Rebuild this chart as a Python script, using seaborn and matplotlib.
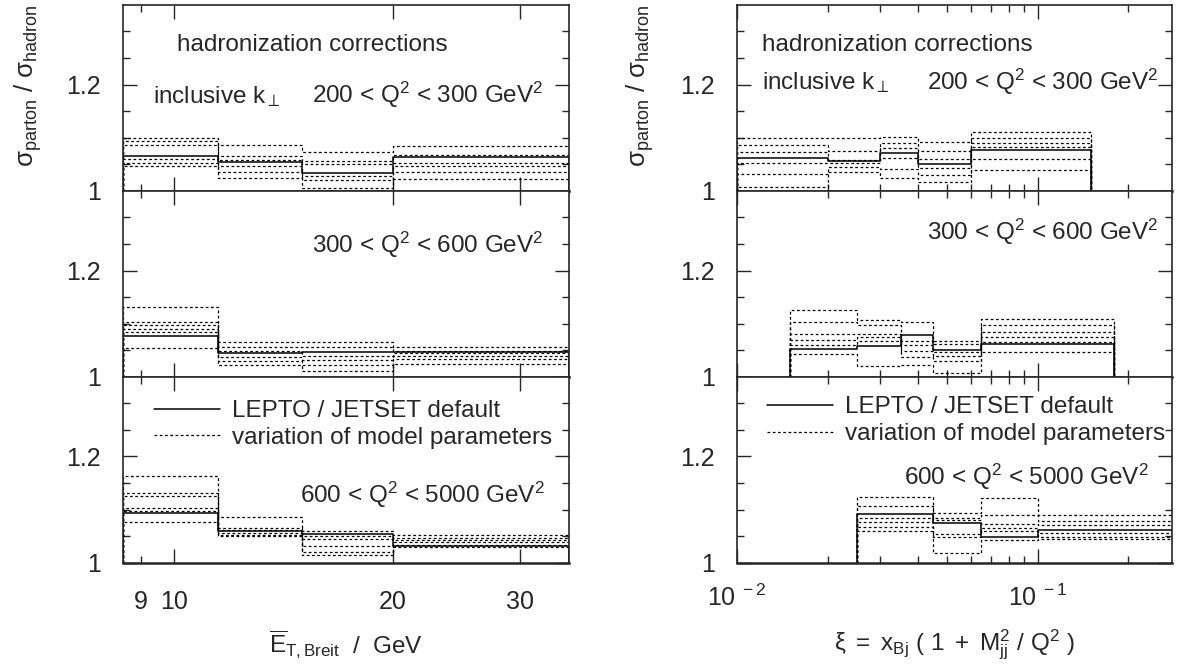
import numpy as np
import pandas as pd
import seaborn as sns
import matplotlib.pyplot as plt
from matplotlib.lines import Line2D

# bin edges
et_edges = [8.5, 11.5, 15, 20, 35]
xi_edges_low = [0.01, 0.02, 0.03, 0.04, 0.06, 0.15]
xi_edges_mid = [0.015, 0.025, 0.035, 0.045, 0.065, 0.18]
xi_edges_high = [0.025, 0.045, 0.065, 0.1, 0.3]

# LEPTO / JETSET default
et_default_low = [1.066, 1.054, 1.034, 1.063]
et_default_mid = [1.0765, 1.045, 1.046, 1.047]
et_default_high = [1.0935, 1.059, 1.054, 1.031]
xi_default_low = [1.061, 1.056, 1.072, 1.050, 1.076]
xi_default_mid = [1.0525, 1.057, 1.0777, 1.051, 1.061]
xi_default_high = [1.0917, 1.0746, 1.049, 1.0606]

# variation of model parameters (one list per variation)
et_var_low = [[1.099, 1.087, 1.074, 1.085],
              [1.093, 1.066, 1.056, 1.068],
              [1.087, 1.058, 1.051, 1.052],
              [1.060, 1.046, 1.028, 1.046],
              [1.053, 1.036, 1.020, 1.036],
              [1.046, 1.025, 1.006, 1.022]]
et_var_mid = [[1.131, 1.066, 1.065, 1.056],
              [1.104, 1.056, 1.056, 1.049],
              [1.097, 1.049, 1.039, 1.044],
              [1.090, 1.037, 1.032, 1.040],
              [1.084, 1.030, 1.022, 1.034],
              [1.054, 1.022, 1.010, 1.024]]
et_var_high = [[1.163, 1.086, 1.059, 1.052],
               [1.131, 1.066, 1.050, 1.046],
               [1.125, 1.062, 1.045, 1.042],
               [1.103, 1.056, 1.032, 1.038],
               [1.097, 1.052, 1.021, 1.034],
               [1.076, 1.050, 1.015, 1.030]]
xi_var_low = [[1.100, 1.099, 1.102, 1.092, 1.111],
              [1.087, 1.075, 1.090, 1.075, 1.100],
              [1.074, 1.058, 1.080, 1.060, 1.090],
              [1.052, 1.052, 1.061, 1.043, 1.082],
              [1.031, 1.045, 1.042, 1.030, 1.060],
              [1.007, 1.036, 1.025, 1.017, 1.040]]
xi_var_mid = [[1.125, 1.107, 1.103, 1.068, 1.108],
              [1.103, 1.097, 1.068, 1.062, 1.097],
              [1.081, 1.081, 1.059, 1.046, 1.085],
              [1.070, 1.075, 1.049, 1.040, 1.075],
              [1.059, 1.068, 1.037, 1.030, 1.065],
              [1.043, 1.020, 1.022, 1.008, 1.047]]
xi_var_high = [[1.123, 1.094, 1.122, 1.090],
               [1.106, 1.084, 1.090, 1.078],
               [1.084, 1.081, 1.073, 1.071],
               [1.076, 1.054, 1.065, 1.056],
               [1.068, 1.049, 1.059, 1.049],
               [1.060, 1.018, 1.043, 1.045]]

q2_labels = ['200 < Q$^2$ < 300 GeV$^2$',
             '300 < Q$^2$ < 600 GeV$^2$',
             '600 < Q$^2$ < 5000 GeV$^2$']

sns.set_style('ticks')
plt.rcParams['font.family'] = ['Liberation Sans', 'DejaVu Sans']
plt.rcParams['mathtext.fontset'] = 'custom'
plt.rcParams['mathtext.rm'] = 'Liberation Sans'
plt.rcParams['mathtext.it'] = 'Liberation Sans:italic'
plt.rcParams['mathtext.sf'] = 'Liberation Sans'
plt.rcParams['font.size'] = 17.5

TXT = 17.5


def draw_hist(ax, edges, values, **kw):
    # closed step histogram, sitting on y = 1
    x = [edges[0]] + list(edges[:-1]) + [edges[-1], edges[-1]]
    y = [1.0] + list(values) + [values[-1], 1.0]
    df = pd.DataFrame({'x': x, 'y': y})
    sns.lineplot(data=df, x='x', y='y', ax=ax, sort=False, estimator=None,
                 drawstyle='steps-post', color='black', **kw)


fig = plt.figure(figsize=(11.84, 6.64), dpi=100)

bottoms = [0.7126, 0.4326, 0.1526]
h = 0.28
left_cols = [(0.1039, 0.3767), (0.6225, 0.3674)]

panels = [
    [(et_edges, et_default_low, et_var_low),
     (et_edges, et_default_mid, et_var_mid),
     (et_edges, et_default_high, et_var_high)],
    [(xi_edges_low, xi_default_low, xi_var_low),
     (xi_edges_mid, xi_default_mid, xi_var_mid),
     (xi_edges_high, xi_default_high, xi_var_high)],
]

axes = [[None] * 3, [None] * 3]
for c in range(2):
    x0, w = left_cols[c]
    for r in range(3):
        ax = fig.add_axes([x0, bottoms[r], w, h])
        axes[c][r] = ax
        ax.set_xscale('log')
        edges, default, variations = panels[c][r]
        for v in variations:
            draw_hist(ax, edges, v, lw=0.9, linestyle=(0, (2.2, 2)))
        draw_hist(ax, edges, default, lw=1.1)

        if c == 0:
            ax.set_xlim(8.5, 35)
            ax.set_xticks([10, 20, 30])
            ax.set_xticks([9], minor=True)
            ax.set_xticklabels(['10', '20', '30'])
            ax.set_xticklabels(['9'], minor=True)
            xpad = 20
        else:
            ax.set_xlim(0.01, 0.28)
            ax.set_xticks([0.01, 0.1])
            ax.set_xticks([0.02, 0.03, 0.04, 0.05, 0.06, 0.07, 0.08, 0.09, 0.2], minor=True)
            ax.set_xticklabels([r'$\mathregular{10^{\ -2}}$', r'$\mathregular{10^{\ -1}}$'])
            ax.set_xticklabels([], minor=True)
            xpad = 16
        ax.set_ylim(1, 1.35)
        ax.set_yticks([1, 1.2])
        ax.set_yticklabels(['1', '1.2'])
        ax.set_yticks([1.05, 1.1, 1.15, 1.25, 1.3], minor=True)
        ax.tick_params(which='both', direction='in', top=True, right=True,
                       labelsize=18, width=1)
        ax.tick_params(which='major', length=10)
        ax.tick_params(which='minor', length=5)
        ax.tick_params(axis='y', pad=16)
        ax.tick_params(axis='x', which='both', pad=xpad, labelbottom=(r == 2))
        ax.set_xlabel('')
        ax.set_ylabel('')
        for s in ax.spines.values():
            s.set_linewidth(1.2)
        ax.spines['bottom'].set_linewidth(1.8)

# texts in the panels
for c, xt in enumerate([0.121, 0.057]):
    axes[c][0].text(xt, 0.785, 'hadronization corrections', transform=axes[c][0].transAxes,
                    ha='left', va='center', fontsize=TXT)
axes[0][0].text(0.067, 0.505, r'inclusive k$_{\perp}$', transform=axes[0][0].transAxes,
                ha='left', va='center', fontsize=TXT)
axes[1][0].text(0.057, 0.585, r'inclusive k$_{\perp}$', transform=axes[1][0].transAxes,
                ha='left', va='center', fontsize=TXT)
axes[0][0].text(0.942, 0.515, q2_labels[0], transform=axes[0][0].transAxes,
                ha='right', va='center', fontsize=TXT)
axes[1][0].text(0.968, 0.585, q2_labels[0], transform=axes[1][0].transAxes,
                ha='right', va='center', fontsize=TXT)
axes[0][1].text(0.942, 0.71, q2_labels[1], transform=axes[0][1].transAxes,
                ha='right', va='center', fontsize=TXT)
axes[1][1].text(0.968, 0.78, q2_labels[1], transform=axes[1][1].transAxes,
                ha='right', va='center', fontsize=TXT)
axes[0][2].text(0.946, 0.366, q2_labels[2], transform=axes[0][2].transAxes,
                ha='right', va='center', fontsize=TXT)
axes[1][2].text(0.947, 0.463, q2_labels[2], transform=axes[1][2].transAxes,
                ha='right', va='center', fontsize=TXT)

handles = [Line2D([], [], color='black', lw=1.1),
           Line2D([], [], color='black', lw=0.9, linestyle=(0, (2.2, 2)))]
labels = ['LEPTO / JETSET default', 'variation of model parameters']
for c, (lx, ly) in enumerate([(0.07, 0.875), (0.07, 0.895)]):
    axes[c][2].legend(handles, labels, loc='upper left', bbox_to_anchor=(lx, ly),
                      frameon=False, fontsize=TXT, handlelength=2.7, handletextpad=0.5,
                      labelspacing=0.2, borderpad=0, borderaxespad=0)

ylab = r'$\mathregular{\sigma_{parton}\ /\ \sigma_{hadron}}$'
fig.text(28 / 1184, 1 - 86 / 664, ylab, rotation=90, ha='center', va='center', fontsize=18.5)
fig.text(640 / 1184, 1 - 86 / 664, ylab, rotation=90, ha='center', va='center', fontsize=18.5)

axes[0][2].set_xlabel(r'$\mathregular{\overline{E}_{T,Breit}}$  /  GeV', fontsize=TXT, labelpad=10)
axes[1][2].set_xlabel(r'$\mathregular{\xi\ =\ x_{Bj}\ (\ 1\ +\ M^2_{jj}\ /\ Q^2\ )}$',
                      fontsize=TXT, labelpad=12)

fig.savefig('out.png', dpi=100)
